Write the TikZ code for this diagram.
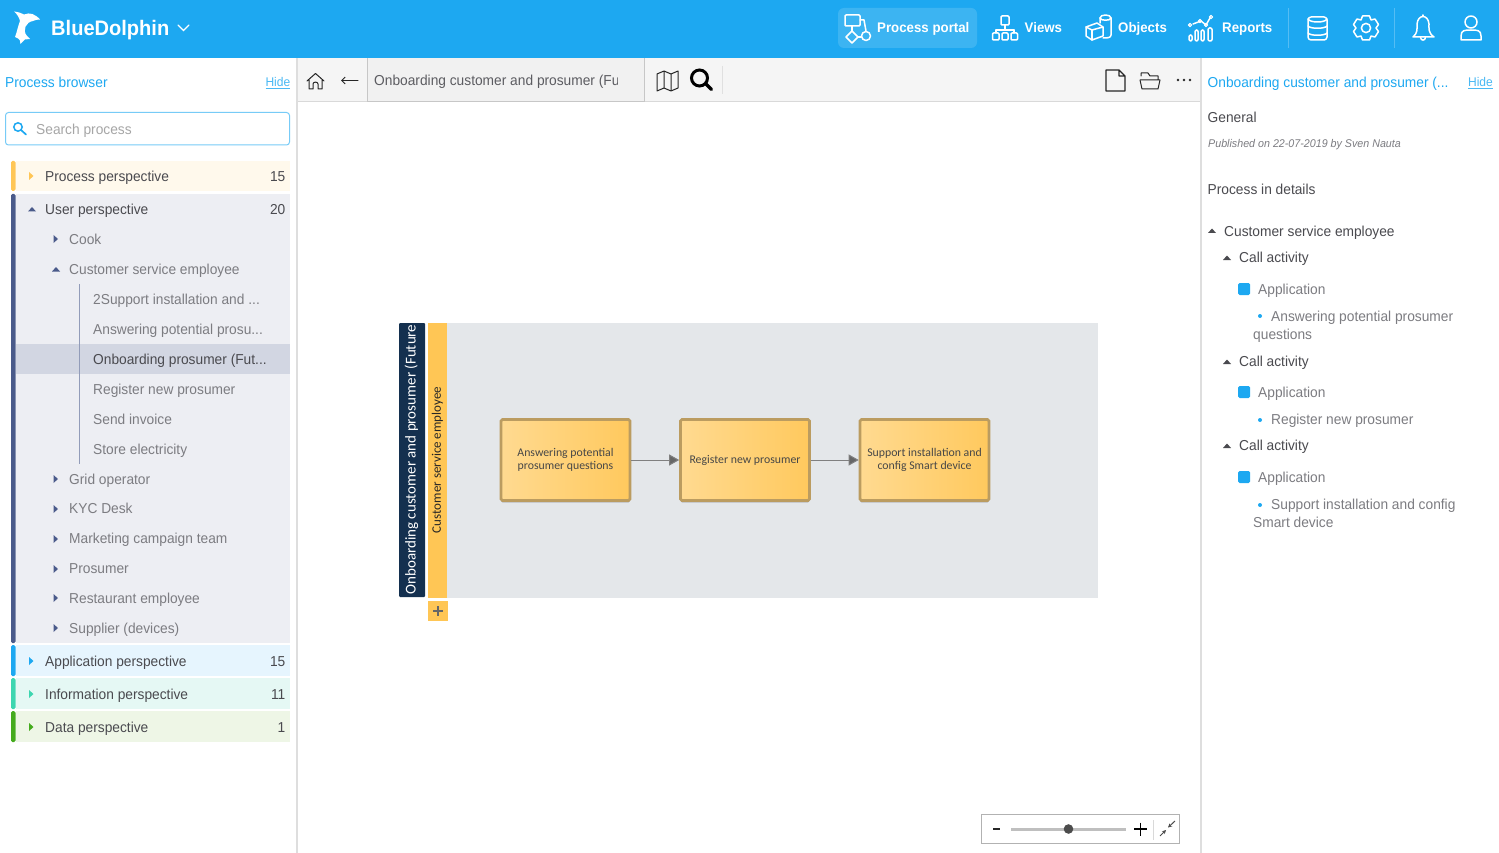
\documentclass[tikz,border=0pt]{standalone}
\usepackage{fontspec}
\setmainfont[FakeStretch=0.955]{Liberation Sans}
\newfontfamily\lato{Carlito}
\usetikzlibrary{arrows.meta,shadows,calc}
\definecolor{hdr}{HTML}{1DA8F1}
\definecolor{navy}{HTML}{14304F}
\definecolor{lane}{HTML}{FFC655}
\definecolor{pool}{HTML}{E4E7EA}
\definecolor{txtd}{HTML}{4A4A4F}
\definecolor{txtg}{HTML}{7C7C81}
\definecolor{usr}{HTML}{4A5A8A}
\definecolor{infobar}{HTML}{3DD6B0}
\definecolor{infobg}{HTML}{E5F8F4}
\definecolor{databar}{HTML}{45AB1E}
\definecolor{databg}{HTML}{EEF6E6}
\definecolor{appbg}{HTML}{E6F5FE}
\definecolor{procbg}{HTML}{FFF9EC}
\definecolor{taskedge}{HTML}{BB9C60}
\newcommand{\tridn}[3]{\fill[#3] (#1-4,#2+2) -- (#1+4,#2+2) -- (#1,#2-2.5) -- cycle;}
\newcommand{\trirt}[3]{\fill[#3] (#1-2,#2-4) -- (#1-2,#2+4) -- (#1+2.5,#2) -- cycle;}
\tikzset{
  x=1pt,y=-1pt,
  lbl/.style={anchor=base west,yshift=-4.7pt,inner sep=0pt,text=txtd,font=\fontsize{14.4}{16}\selectfont},
  lblg/.style={lbl,text=txtg},
  num/.style={anchor=base east,yshift=-4.7pt,inner sep=0pt,text=txtd,font=\fontsize{14.4}{16}\selectfont},
  link/.style={anchor=base west,yshift=-5.3pt,inner sep=0pt,text=hdr,font=\fontsize{14.4}{16}\selectfont},
  hide/.style={anchor=base east,yshift=-4.3pt,inner sep=0pt,text=hdr!80,font=\fontsize{12.6}{14}\selectfont},
  menu/.style={anchor=base west,yshift=-5pt,inner sep=0pt,text=white,font=\bfseries\fontsize{13.9}{16}\selectfont},
  ico/.style={draw=white,line width=1.5pt,line join=round,line cap=round},
  tool/.style={draw=black!85,line width=1.3pt,line join=round,line cap=round},
  task/.style={draw=taskedge,line width=2.6pt,rounded corners=1.5pt,left color=lane!65,right color=lane!95!white,
    minimum width=129pt,minimum height=81pt,inner sep=1pt,align=center,text=black!72,
    font=\lato\fontsize{11.8}{12.3}\selectfont,drop shadow={shadow xshift=0pt,shadow yshift=-1.8pt,opacity=.35,fill=black}},
  flow/.style={draw=black!50,line width=1pt,-{Triangle[length=10pt,width=11pt,fill=black!60]}},
}
\begin{document}
\begin{tikzpicture}
\useasboundingbox (0,0) rectangle (1499,853);
\fill[white] (0,0) rectangle (1499,853);
% header
\fill[hdr] (0,0) rectangle (1499,58);
\fill[white] (14,11.5) .. controls (19,12) and (22,13.5) .. (24,14.5) .. controls (30,12) and (35,14) .. (40,19.5) .. controls (37,19.5) and (35,20) .. (33,21) .. controls (26,22) and (22,30) .. (27,36) -- (30,39) -- (25,39.5) -- (20.5,44) .. controls (21,41) and (20,39) .. (15,37) .. controls (17,32) and (18,26) .. (20,21) .. controls (19,17) and (17,14) .. (14,11.5) -- cycle;
\node[anchor=base west,yshift=-7.5pt,inner sep=0pt,text=white,font=\bfseries\fontsize{21}{24}\selectfont] (brand) at (51,28) {BlueDolphin};
\draw[white,line width=1.3pt,line cap=round] (178,25) -- (183.5,30.5) -- (189,25);
\fill[white,opacity=.14,rounded corners=6pt] (838,8) rectangle (977,48);
\begin{scope}[ico]
 \draw[ico,rounded corners=1pt] (845,15) rectangle (860,26);
 \draw[ico] (852,26) -- (852,31);
 \draw[ico] (852,31) -- (846,37) -- (852,43) -- (858,37) -- cycle;
 \draw[ico] (860,20) -- (864,20) -- (866,31);
 \draw[ico] (866,36) circle (4.5);
 \draw[ico] (858,37) -- (861.5,37);
 % views
 \draw[ico,rounded corners=1pt] (1001,16) rectangle (1009,25);
 \draw[ico] (1005,25) -- (1005,30); \draw[ico] (996,30) -- (1014,30); \draw[ico] (996,30) -- (996,33); \draw[ico] (1014,30) -- (1014,33);
 \draw[ico,rounded corners=1pt] (992.5,33) rectangle (999,40);
 \draw[ico,rounded corners=1pt] (1002,33) rectangle (1008,40);
 \draw[ico,rounded corners=1pt] (1011,33) rectangle (1017.5,40);
 % objects
 \draw[ico] (1086,27) -- (1097,23) -- (1103,27) -- (1103,36) -- (1092,40) -- (1086,36) -- cycle;
 \draw[ico] (1086,27) -- (1092,30) -- (1103,27); \draw[ico] (1092,30) -- (1092,40);
 \draw[ico] (1100,23) -- (1100,18) .. controls (1100,14) and (1111,14) .. (1111,18) -- (1111,35) .. controls (1111,38) and (1107,38) .. (1103,38);
 \draw[ico] (1100,18) .. controls (1100,21) and (1111,21) .. (1111,18);
 % reports
 \draw[ico] (1193,24) -- (1201,21) -- (1206,25) -- (1210,18);
 \foreach \p/\q in {1190/25,1200/21,1206/25,1211/17}{\draw[ico,line width=1.2pt] (\p,\q) circle (1.6);}
 \draw[ico,rounded corners=1.3pt] (1189,35) rectangle (1192,41);
 \draw[ico,rounded corners=1.3pt] (1195,30) rectangle (1198,41);
 \draw[ico,rounded corners=1.3pt] (1201,30) rectangle (1204,41);
 \draw[ico,rounded corners=1.3pt] (1208,28) rectangle (1212,41);
 % database
 \draw[ico,rounded corners=3pt] (1308,17) rectangle (1327,40);
 \draw[ico] (1308,19) .. controls (1310,23) and (1325,23) .. (1327,19);
 \draw[ico] (1308,26) .. controls (1310,29) and (1325,29) .. (1327,26);
 \draw[ico] (1308,33) .. controls (1310,36) and (1325,36) .. (1327,33);
 % gear
 \draw[ico] (1366,28) circle (4.6);
 \draw[ico] (1362.5,16) -- (1369.5,16) -- (1371,20) -- (1375,19) -- (1378.5,24.5) -- (1376,28) -- (1378.5,31.5) -- (1375,37) -- (1371,36) -- (1369.5,40) -- (1362.5,40) -- (1361,36) -- (1357,37) -- (1353.5,31.5) -- (1356,28) -- (1353.5,24.5) -- (1357,19) -- (1361,20) -- cycle;
 % bell
 \draw[ico] (1413,37) .. controls (1418,33) and (1417,28) .. (1417,24) .. controls (1418,14) and (1428,14) .. (1429,24) .. controls (1429,28) and (1428,33) .. (1434,37) -- cycle;
 \draw[ico] (1423,15) -- (1423,16.5);
 \draw[ico] (1420.5,37.5) .. controls (1421,41) and (1425,41) .. (1425.5,37.5);
 % user
 \draw[ico] (1471,22) circle (6);
 \draw[ico] (1461,40) -- (1461,36) .. controls (1461,30) and (1465,30) .. (1471,30) .. controls (1477,30) and (1481,30) .. (1481,36) -- (1481,40) -- cycle;
\end{scope}
\node[menu] (m1) at (877,28) {Process portal};
\node[menu] (m2) at (1024.5,28) {Views};
\node[menu] (m3) at (1118,28) {Objects};
\node[menu] (m4) at (1222,28) {Reports};
\draw[white,opacity=.25] (1288.5,8) -- (1288.5,48) (1394.5,8) -- (1394.5,48);
% side rules
\fill[black!13] (296,58) rectangle (298,853);
\fill[black!13] (1200,58) rectangle (1202,853);
% toolbar
\fill[black!4] (298,58) rectangle (1200,101);
\draw[black!15] (298,101.5) -- (1200,101.5);
\fill[black!5.5] (367.5,58) rectangle (644.5,101);
\draw[black!22] (367.5,58) -- (367.5,101.5) -- (644.5,101.5) -- (644.5,58);
\begin{scope}
 \clip (368,58) rectangle (617,101);
 \node[lbl,text=txtd!90] (crumb) at (374,80.5) {Onboarding customer and prosumer (Fu};
\end{scope}
\draw[tool,line width=1pt] (307,81) -- (315.5,73.5) -- (324,81) (309,80) -- (309,89) -- (313,89) -- (313,84) .. controls (313,81.5) and (318,81.5) .. (318,84) -- (318,89) -- (322,89) -- (322,80);
\draw[tool,line width=1pt,-{Straight Barb[length=3.5pt,width=7pt]}] (358,80.5) -- (341,80.5);
\draw[tool,line width=1pt] (657,74) -- (664,71) -- (671,74) -- (678,71) -- (678,88) -- (671,91) -- (664,88) -- (657,91) -- cycle (664,71) -- (664,88) (671,74) -- (671,91);
\draw[black,line width=3pt] (699.5,78) circle (8);
\draw[black,line width=3.4pt,line cap=round] (706,84) -- (711.5,89.5);
\draw[black!12] (722.5,66) -- (722.5,94);
\draw[tool,line width=1.3pt] (1106,70) -- (1119,70) -- (1125,76) -- (1125,91) -- (1106,91) -- cycle (1119,70) -- (1119,76) -- (1125,76);
\draw[tool,line width=1pt] (1141,76) -- (1141,73) -- (1148,73) -- (1150,76) -- (1158,76) -- (1158,80) (1140,80) -- (1160,80) -- (1158,89) -- (1142,89) -- cycle;
\foreach \p in {1178,1184,1190}{\fill[black!85] (\p,80) circle (1.3);}
% left panel
\node[link] (pb) at (5,82) {Process browser};
\node[hide] (h1) at (290.5,82) {\underline{Hide}};
\draw[hdr!60,line width=1pt,rounded corners=3pt,fill=white] (5.5,112.5) rectangle (289.5,145);
\draw[hdr,line width=1.5pt] (18,127) circle (4.2);
\draw[hdr,line width=1.7pt,line cap=round] (21,130) -- (26,134.5);
\node[lbl,text=black!35] (search) at (36,129.5) {Search process};
% groups
\fill[procbg] (16,161) rectangle (290,191);
\fill[lane,rounded corners=1.5pt] (11,161) rectangle (15.5,191);
\fill[usr!10!white] (16,194) rectangle (290,643);
\fill[usr,rounded corners=1.5pt] (11,194) rectangle (15.5,643);
\fill[usr!25!white] (16,344) rectangle (290,374);
\draw[usr!60] (79.5,284) -- (79.5,464);
\fill[appbg] (16,645) rectangle (290,676);
\fill[hdr,rounded corners=1.5pt] (11,645) rectangle (15.5,676);
\fill[infobg] (16,678) rectangle (290,709);
\fill[infobar,rounded corners=1.5pt] (11,678) rectangle (15.5,709);
\fill[databg] (16,711) rectangle (290,742);
\fill[databar,rounded corners=1.5pt] (11,711) rectangle (15.5,742);
\trirt{31}{176}{lane}
\tridn{32}{209.5}{usr}
\trirt{55.5}{239}{usr}
\tridn{56}{269.5}{usr}
\trirt{55.5}{479}{usr}
\trirt{55.5}{509}{usr}
\trirt{55.5}{539}{usr}
\trirt{55.5}{569}{usr}
\trirt{55.5}{598}{usr}
\trirt{55.5}{628}{usr}
\trirt{31}{661}{hdr}
\trirt{31}{694}{infobar}
\trirt{31}{727}{databar}
\node[lbl] (t1) at (45,176.5) {Process perspective};
\node[num] (n1) at (285.5,176.5) {15};
\node[lbl] (t2) at (45,209.5) {User perspective};
\node[num] (n2) at (285.5,209.5) {20};
\node[lblg] (t3) at (69,239.5) {Cook};
\node[lblg] (t4) at (69,269.5) {Customer service employee};
\node[lblg] (t5) at (93,299.5) {2Support installation and ...};
\node[lblg] (t6) at (93,329.5) {Answering potential prosu...};
\node[lbl] (t7) at (93,359.5) {Onboarding prosumer (Fut...};
\node[lblg] (t8) at (93,389.5) {Register new prosumer};
\node[lblg] (t9) at (93,419.5) {Send invoice};
\node[lblg] (t10) at (93,449.5) {Store electricity};
\node[lblg] (t11) at (69,479.5) {Grid operator};
\node[lblg] (t12) at (69,509) {KYC Desk};
\node[lblg] (t13) at (69,539) {Marketing campaign team};
\node[lblg] (t14) at (69,569) {Prosumer};
\node[lblg] (t15) at (69,599) {Restaurant employee};
\node[lblg] (t16) at (69,629) {Supplier (devices)};
\node[lbl] (t17) at (45,661.5) {Application perspective};
\node[num] (n17) at (285.5,661.5) {15};
\node[lbl] (t18) at (45,694.5) {Information perspective};
\node[num] (n18) at (285.5,694.5) {11};
\node[lbl] (t19) at (45,727.5) {Data perspective};
\node[num] (n19) at (285.5,727.5) {1};
% diagram
\fill[pool] (447,323) rectangle (1098,598);
\fill[lane] (428,323) rectangle (447,598);
\fill[navy,rounded corners=1pt] (399,323) rectangle (425,597);
\node[rotate=90,inner sep=0pt,text=white,font=\lato\fontsize{15}{18}\selectfont] (pooltitle) at (411.5,459.5) {Onboarding customer and prosumer (Future};
\node[rotate=90,inner sep=0pt,text=black!85,font=\lato\fontsize{13}{14}\selectfont] (lanetitle) at (437.5,460) {Customer service employee};
\fill[lane] (428,601) rectangle (448,621);
\draw[black!60,line width=1.8pt] (433,611) -- (443,611) (438,606) -- (438,616);
\node[task] (b1) at (565.5,460) {Answering potential\\prosumer questions};
\node[task] (b2) at (745,460) {Register new prosumer};
\node[task] (b3) at (924.5,460) {Support installation and\\config Smart device};
\draw[flow] (b1) -- (b2);
\draw[flow] (b2) -- (b3);
% zoom control
\draw[black!30,fill=white] (981,814.5) rectangle (1179.5,843.5);
\fill[black!85] (993,828.2) rectangle (1000,830.2);
\fill[black!25] (1011,827.5) rectangle (1126,830.5);
\fill[black!70] (1068.5,829) circle (4.8);
\draw[black,line width=1.9pt] (1134,829) -- (1147,829) (1140.5,822.5) -- (1140.5,835.5);
\draw[black!15] (1153.5,820) -- (1153.5,840);
\draw[black!70,line width=1pt,-{Stealth[length=4pt,width=4pt]}] (1175,821) -- (1168,827.5);
\draw[black!70,line width=1pt,-{Stealth[length=4pt,width=4pt]}] (1160,836) -- (1166,830);
% right panel
\node[link] (r0) at (1207.5,82) {Onboarding customer and prosumer (...};
\node[hide] (h2) at (1493,82) {\underline{Hide}};
\node[lbl] (r1) at (1207.5,117.7) {General};
\node[lblg,font=\itshape\fontsize{11.2}{13}\selectfont] (r2) at (1208,142.7) {Published on 22-07-2019 by Sven Nauta};
\node[lbl] (r3) at (1207.5,189.5) {Process in details};
\tridn{1212}{231}{txtd}
\node[lbl] (r4) at (1224,231.5) {Customer service employee};
\tridn{1227}{258}{txtd}
\node[lbl] (r5) at (1239,257.5) {Call activity};
\fill[hdr,rounded corners=1.5pt] (1238,283) rectangle (1250,295);
\node[lblg] (r6) at (1258,289.5) {Application};
\fill[hdr] (1260,316) circle (2);
\node[lblg] (r7) at (1271,316.3) {Answering potential prosumer};
\node[lblg] (r8) at (1253,335) {questions};
\tridn{1227}{362}{txtd}
\node[lbl] (r9) at (1239,361.5) {Call activity};
\fill[hdr,rounded corners=1.5pt] (1238,386) rectangle (1250,398);
\node[lblg] (r10) at (1258,392.5) {Application};
\fill[hdr] (1260,420) circle (2);
\node[lblg] (r11) at (1271,419.5) {Register new prosumer};
\tridn{1227}{446}{txtd}
\node[lbl] (r12) at (1239,445.5) {Call activity};
\fill[hdr,rounded corners=1.5pt] (1238,471) rectangle (1250,483);
\node[lblg] (r13) at (1258,477.5) {Application};
\fill[hdr] (1260,505) circle (2);
\node[lblg] (r14) at (1271,504.5) {Support installation and config};
\node[lblg] (r15) at (1253,523) {Smart device};
\end{tikzpicture}
\end{document}
